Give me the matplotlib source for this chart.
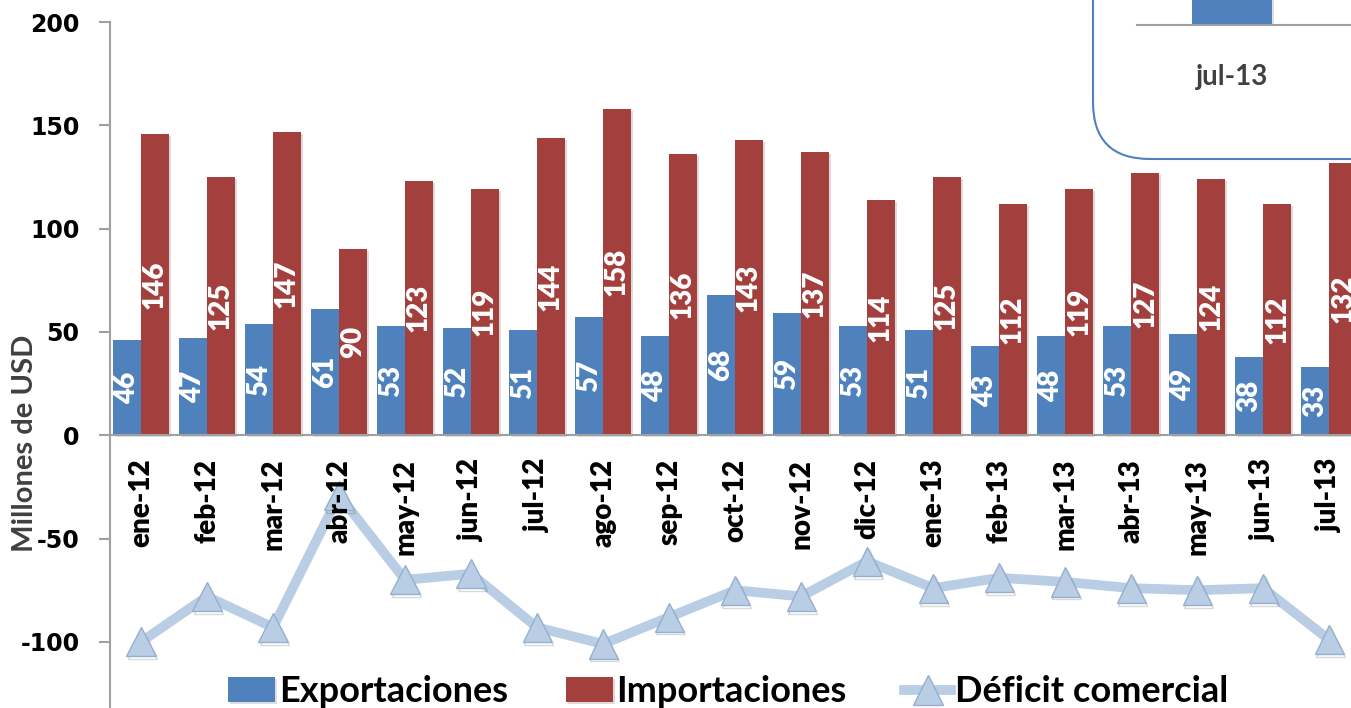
import matplotlib.pyplot as plt
import matplotlib.patheffects as pe
from matplotlib.patches import FancyBboxPatch
import numpy as np

meses = ['ene-12', 'feb-12', 'mar-12', 'abr-12', 'may-12', 'jun-12', 'jul-12',
         'ago-12', 'sep-12', 'oct-12', 'nov-12', 'dic-12', 'ene-13', 'feb-13',
         'mar-13', 'abr-13', 'may-13', 'jun-13', 'jul-13']
exportaciones = [46, 47, 54, 61, 53, 52, 51, 57, 48, 68, 59, 53, 51, 43, 48, 53, 49, 38, 33]
importaciones = [146, 125, 147, 90, 123, 119, 144, 158, 136, 143, 137, 114, 125, 112, 119, 127, 124, 112, 132]
deficit = [-100, -78, -93, -29, -70, -67, -93, -101, -88, -75, -78, -61, -74, -69, -71, -74, -75, -74, -99]
y_ticks = [-100, -50, 0, 50, 100, 150, 200]

# recuadro superpuesto (otro grafico, recortado)
recuadro_mes = ['jul-13']
recuadro_valor = [33]

azul = '#4F81BD'
rojo = '#A33F3C'
celeste = '#B9CDE5'

fig = plt.figure(figsize=(13.51, 7.08), dpi=100)
ax = fig.add_axes([110 / 1351, 0.0, 1 - 110 / 1351, 1 - 22 / 708])

# la posicion del eje reinicia los ticks, va primero
for s in ['top', 'right']:
    ax.spines[s].set_visible(False)
ax.spines['bottom'].set_position(('data', 0))
ax.spines['bottom'].set_color('#A0A0A0')
ax.spines['left'].set_color('#A0A0A0')
ax.spines['bottom'].set_linewidth(1.5)
ax.spines['left'].set_linewidth(1.5)

x = np.arange(len(meses))
w = 0.42
sombra = [pe.SimplePatchShadow(offset=(1.5, -1.5), alpha=0.15), pe.Normal()]
b1 = ax.bar(x - w / 2, exportaciones, w, color=azul, zorder=2, path_effects=sombra,
            label='Exportaciones')
b2 = ax.bar(x + w / 2, importaciones, w, color=rojo, zorder=2, path_effects=sombra,
            label='Importaciones')

for bars, vals in [(b1, exportaciones), (b2, importaciones)]:
    for rect, v in zip(bars, vals):
        ax.text(rect.get_x() + rect.get_width() / 2, v / 2, str(v), rotation=90,
                ha='center', va='center', color='white', fontsize=20,
                fontweight='heavy', family='Lato', zorder=3)

ax.plot(x, deficit, color=celeste, lw=7, solid_joinstyle='round', zorder=4)
ax.plot(x, deficit, ls='none', marker='^', ms=21, mfc=celeste, mec='#95AFCF',
        mew=1, zorder=5,
        path_effects=[pe.SimpleLineShadow(offset=(1, -2), alpha=0.15), pe.Normal()])

ax.set_xlim(-0.47, 18.33)
ax.set_ylim(-132, 200)
ax.set_yticks(y_ticks)
ax.set_yticklabels([str(t) for t in y_ticks], fontsize=17, fontweight='bold',
                   family='DejaVu Sans')
ax.set_xticks(x)
ax.set_xticklabels(meses, rotation=90, fontsize=20, fontweight='heavy', family='Lato')
ax.tick_params(axis='y', length=8, width=1.5, color='#A0A0A0', pad=14)
ax.tick_params(axis='x', length=0, pad=17)
ax.xaxis.set_zorder(6)

fig.text(25 / 1351, 1 - 443 / 708, 'Millones de USD', rotation=90, ha='center',
         va='center', fontsize=21, fontweight='bold', family='Lato', color='#404040')

h_line = plt.Line2D([], [], color=celeste, lw=7, marker='^', ms=21, mfc=celeste,
                    mec='#95AFCF')
fig.legend([b1, b2, h_line], ['Exportaciones', 'Importaciones', 'Déficit comercial'],
           loc='center', bbox_to_anchor=(0.539, 0.023), ncol=3, frameon=False,
           prop={'family': 'Lato', 'weight': 'bold', 'size': 26},
           handlelength=1.3, handleheight=0.7, handletextpad=0.1, columnspacing=1.6)

# recuadro redondeado arriba a la derecha
caja = FancyBboxPatch((10.93, 5.49), 4.0, 3.0, boxstyle='round,pad=0,rounding_size=0.57',
                      transform=fig.dpi_scale_trans, facecolor='white', edgecolor=azul,
                      linewidth=1.5, zorder=10)
fig.patches.append(caja)

ax2 = fig.add_axes([1137 / 1351, 1 - 25 / 708, 263 / 1351, 0.1], zorder=11)
ax2.patch.set_visible(False)
ax2.bar([0], recuadro_valor, 0.5, color=azul, path_effects=sombra)
ax2.set_xlim(-0.6, 1.06)
ax2.set_ylim(0, 40)
ax2.set_xticks([0])
ax2.set_xticklabels(recuadro_mes, fontsize=20, fontweight='bold', family='Lato',
                    color='#404040')
ax2.tick_params(axis='x', length=0, pad=28)
ax2.set_yticks([])
for s in ['top', 'right', 'left']:
    ax2.spines[s].set_visible(False)
ax2.spines['bottom'].set_color('#A0A0A0')
ax2.spines['bottom'].set_linewidth(1.5)

fig.savefig('out.png', dpi=100)
